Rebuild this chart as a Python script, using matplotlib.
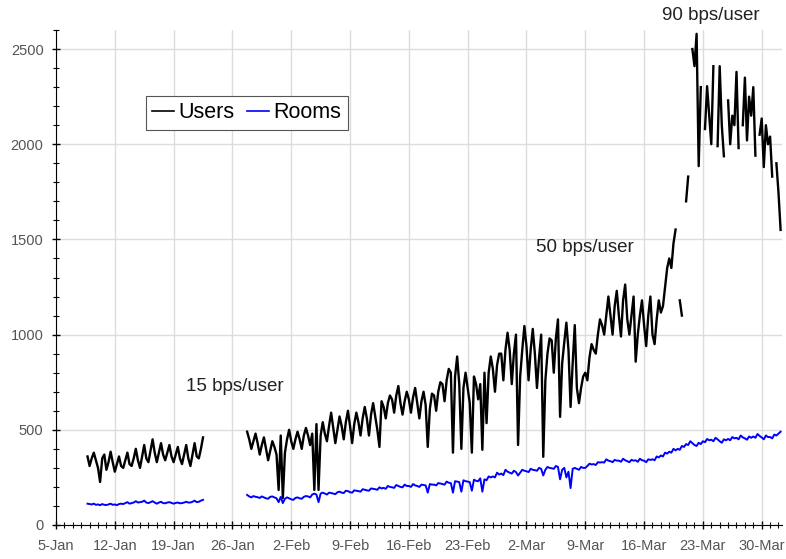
import numpy as np
import pandas as pd
import matplotlib
matplotlib.use("Agg")
import matplotlib.pyplot as plt
import matplotlib.dates as mdates
from matplotlib.ticker import MultipleLocator, FixedLocator, FuncFormatter

plt.rcParams['font.family'] = ['Liberation Sans', 'DejaVu Sans']

nan = np.nan

# two logging periods, one sample every 6 hours
seg1_start = "2009-01-08 18:00"
seg2_start = "2009-01-27 18:00"

users_1 = [360,
           310, 350, 380, 340,   # 9-Jan
           300, 226, 350, 370,
           290, 330, 385, 330,
           280, 320, 360, 310,   # 12-Jan
           300, 340, 380, 320,
           310, 350, 400, 340,
           300, 360, 420, 350,
           330, 390, 450, 380,   # 16-Jan
           330, 380, 430, 370,
           340, 380, 420, 360,
           330, 370, 410, 350,   # 19-Jan
           320, 370, 420, 350,
           310, 370, 430, 360,
           350, 400, 460]        # 22-Jan

rooms_1 = [112,
           110, 108, 112, 106,
           108, 104, 110, 106,
           105, 108, 112, 106,
           108, 104, 110, 112,
           110, 115, 120, 112,
           115, 118, 125, 118,
           120, 122, 128, 118,
           115, 120, 125, 118,
           112, 118, 122, 115,
           114, 118, 120, 116,
           112, 116, 118, 114,
           115, 118, 122, 118,
           118, 122, 128, 120,
           122, 128, 132]

users_2 = [490,
           450, 400, 440, 480,   # 28-Jan
           430, 370, 420, 460,
           400, 340, 390, 440,
           410, 370, 184, 470,
           142, 380, 450, 500,   # 1-Feb
           440, 400, 450, 490,
           450, 400, 470, 510,
           470, 420, 480, 184,
           530, 184, 470, 540,   # 5-Feb
           480, 440, 520, 590,
           510, 430, 500, 570,
           520, 450, 540, 600,
           520, 430, 530, 590,   # 9-Feb
           540, 470, 560, 620,
           560, 470, 580, 640,
           570, 500, 410, 650,
           620, 560, 640, 680,   # 13-Feb
           660, 590, 680, 730,
           640, 580, 650, 700,
           660, 590, 670, 720,
           640, 560, 650, 700,   # 17-Feb
           630, 410, 610, 690,
           680, 600, 700, 750,
           740, 650, 760, 820,
           800, 380, 780, 885,   # 21-Feb
           740, 400, 720, 800,
           720, 640, 380, 780,
           740, 660, 740, 395,
           800, 535, 800, 885,   # 25-Feb
           820, 700, 840, 900,
           900, 760, 920, 1010,
           920, 740, 900, 1000,
           420, 780, 920, 1045,  # 1-Mar
           940, 760, 920, 1030,
           900, 720, 880, 1000,
           358, 760, 900, 980,
           970, 800, 980, 1080,  # 5-Mar
           568, 850, 960, 1063,
           920, 620, 850, 1050,
           720, 640, 720, 780,
           800, 760, 880, 950,   # 9-Mar
           920, 900, 1000, 1080,
           1050, 1000, 1100, 1200,
           1100, 1000, 1150, 1230,
           1100, 990, 1180, 1263,  # 13-Mar
           1080, 1000, 1100, 1200,
           858, 1000, 1100, 1180,
           1050, 940, 1100, 1200,
           1000, 950, 1080, 1180,  # 17-Mar
           1116, 1150, 1250, 1350,
           1400, 1350, 1480, 1552,
           nan, 1180, 1100, nan,
           1700, 1830, nan, 2500,  # 21-Mar
           2410, 2580, 1885, 2300,
           nan, 2080, 2305, 2150,
           2000, 2410, nan, 1990,
           2410, 2100, 1937, nan,  # 25-Mar
           2230, 2000, 2150, 2100,
           2380, 1980, nan, 2100,
           2350, 2020, 2250, 2150,
           2300, 1940, nan, 2050,  # 29-Mar
           2135, 1880, 2100, 2000,
           2040, 1830, nan, 1900,
           1745, 1550]             # 1-Apr

rooms_2 = [158,
           150, 145, 152, 148,
           146, 142, 150, 145,
           140, 138, 148, 150,
           145, 140, 120, 148,
           115, 138, 145, 140,   # 1-Feb
           135, 132, 142, 145,
           140, 138, 148, 152,
           150, 145, 160, 165,
           160, 120, 165, 170,
           165, 160, 170, 168,
           165, 162, 172, 175,
           170, 168, 180, 178,
           172, 170, 182, 180,   # 9-Feb
           178, 175, 188, 185,
           182, 180, 192, 190,
           188, 185, 198, 192,
           195, 190, 205, 200,
           198, 195, 210, 205,
           200, 198, 212, 205,
           205, 200, 215, 208,   # 16-Feb
           205, 200, 212, 210,
           208, 170, 215, 212,
           212, 208, 220, 218,
           215, 212, 228, 222,
           220, 170, 230, 228,
           225, 175, 235, 230,
           228, 225, 180, 238,   # 23-Feb
           232, 230, 245, 175,
           240, 235, 255, 250,
           255, 250, 275, 265,
           270, 262, 290, 280,
           275, 270, 285, 278,
           260, 275, 290, 285,   # 1-Mar
           282, 278, 295, 290,
           288, 285, 300, 295,
           260, 290, 305, 300,
           298, 295, 310, 305,
           240, 290, 300, 250,
           280, 194, 295, 300,
           295, 290, 305, 300,
           300, 310, 322, 318,   # 9-Mar
           320, 315, 330, 328,
           330, 328, 345, 338,
           335, 330, 342, 338,
           338, 332, 348, 340,
           335, 330, 342, 338,
           340, 332, 348, 340,
           338, 330, 345, 342,   # 16-Mar
           345, 340, 360, 355,
           365, 360, 380, 375,
           385, 380, 400, 392,
           400, 395, 415, 410,
           425, 420, 440, 430,
           420, 415, 432, 425,
           440, 435, 452, 445,   # 23-Mar
           448, 440, 458, 450,
           440, 432, 450, 445,
           452, 445, 462, 455,
           458, 450, 470, 460,
           455, 448, 465, 458,
           465, 458, 478, 468,
           460, 450, 470, 462,   # 30-Mar
           462, 455, 475, 470,
           480, 490]

notes = ["15 bps/user", "50 bps/user", "90 bps/user"]
note_x = ["2009-01-26 08:00", "2009-03-08 22:00", "2009-03-24 00:00"]
note_y = [726, 1458, 2674]


def times(start, vals):
    return pd.date_range(start, periods=len(vals), freq="6h")


fig = plt.figure(figsize=(7.86, 5.59), dpi=100)
ax = fig.add_axes([56 / 786, 34 / 559, 726 / 786, 495 / 559])

ax.plot(times(seg1_start, users_1), users_1, color="black", lw=1.7, label="Users")
ax.plot(times(seg2_start, users_2), users_2, color="black", lw=1.7)
ax.plot(times(seg1_start, rooms_1), rooms_1, color="#0000ff", lw=1.4, label="Rooms")
ax.plot(times(seg2_start, rooms_2), rooms_2, color="#0000ff", lw=1.4)

for txt, tx, ty in zip(notes, note_x, note_y):
    ax.text(pd.Timestamp(tx), ty, txt, ha="center", va="center", fontsize=13.5,
            color="#222222", clip_on=False)

ax.set_xlim(pd.Timestamp("2009-01-05"), pd.Timestamp("2009-04-01 10:00"))
ax.set_ylim(0, 2600)

weeks = pd.date_range("2009-01-05", "2009-03-30", freq="7D")
days = pd.date_range("2009-01-05", "2009-04-01", freq="D")
ax.xaxis.set_major_locator(FixedLocator(mdates.date2num(weeks)))
ax.xaxis.set_minor_locator(FixedLocator(mdates.date2num(days)))
ax.xaxis.set_major_formatter(FuncFormatter(
    lambda v, p: f"{mdates.num2date(v).day}-{mdates.num2date(v):%b}"))
ax.yaxis.set_major_locator(MultipleLocator(500))
ax.yaxis.set_minor_locator(MultipleLocator(100))

ax.grid(True, which="major", color="#dcdcdc", lw=1)
ax.set_axisbelow(True)
ax.tick_params(which="major", direction="inout", length=6, width=1,
               labelsize=10.5, labelcolor="#555555")
ax.tick_params(which="minor", direction="inout", length=4, width=0.8)
ax.tick_params(axis="x", pad=7)
ax.tick_params(axis="y", pad=6)
ax.spines["top"].set_visible(False)
ax.spines["right"].set_visible(False)

leg = ax.legend(loc="upper left", bbox_to_anchor=(0.124, 0.867), ncol=2,
                fontsize=15.5, handlelength=1.0, handletextpad=0.2,
                columnspacing=0.6, borderpad=0.3, borderaxespad=0,
                fancybox=False, framealpha=1, edgecolor="#555555")
leg.get_frame().set_linewidth(0.8)
for h in leg.get_lines():
    h.set_linewidth(1.2)

fig.savefig("out.png", dpi=100)
